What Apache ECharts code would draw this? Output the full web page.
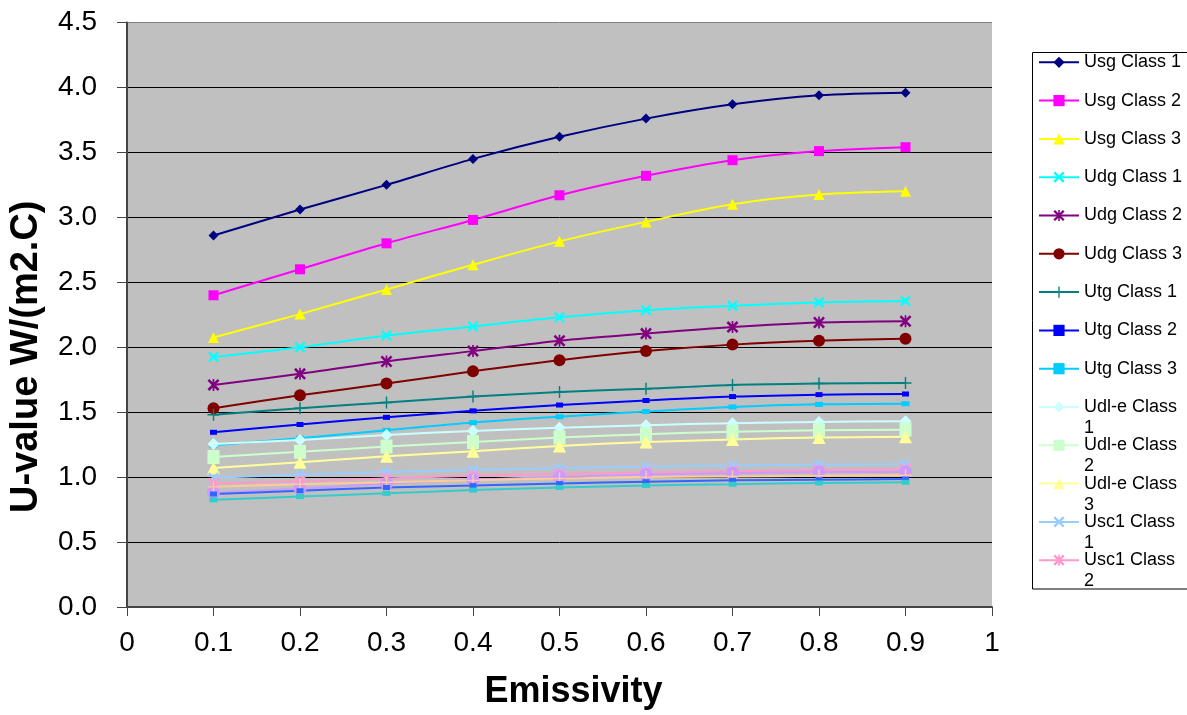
<!DOCTYPE html>
<html>
<head>
<meta charset="utf-8">
<script src="https://cdn.jsdelivr.net/npm/echarts@6/dist/echarts.min.js"></script>
<style>
html,body{margin:0;padding:0;background:#fff;}
#chart{width:1187px;height:715px;}
</style>
</head>
<body>
<div id="chart"></div>
<script>
// ---- data ----
const emissivity = [0.1, 0.2, 0.3, 0.4, 0.5, 0.6, 0.7, 0.8, 0.9];
const seriesNames = [
  'Usg Class 1','Usg Class 2','Usg Class 3',
  'Udg Class 1','Udg Class 2','Udg Class 3',
  'Utg Class 1','Utg Class 2','Utg Class 3',
  'Udl-e Class 1','Udl-e Class 2','Udl-e Class 3',
  'Usc1 Class 1','Usc1 Class 2','Usc1 Class 3',
  'Usc2 Class 1','Usc2 Class 2','Usc2 Class 3'
];
const legendNames = seriesNames.slice(0, 14);
const usgClass1 = [2.86, 3.06, 3.25, 3.45, 3.62, 3.76, 3.87, 3.94, 3.96];
const usgClass2 = [2.40, 2.60, 2.80, 2.98, 3.17, 3.32, 3.44, 3.51, 3.54];
const usgClass3 = [2.075, 2.255, 2.445, 2.635, 2.815, 2.965, 3.10, 3.175, 3.20];
const udgClass1 = [1.925, 2.00, 2.09, 2.16, 2.23, 2.285, 2.32, 2.345, 2.355];
const udgClass2 = [1.71, 1.795, 1.89, 1.97, 2.05, 2.105, 2.155, 2.19, 2.20];
const udgClass3 = [1.53, 1.63, 1.72, 1.815, 1.90, 1.97, 2.02, 2.05, 2.065];
const utgClass1 = [1.48, 1.53, 1.575, 1.62, 1.655, 1.68, 1.71, 1.72, 1.725];
const utgClass2 = [1.345, 1.405, 1.46, 1.51, 1.555, 1.59, 1.62, 1.635, 1.64];
const utgClass3 = [1.245, 1.30, 1.36, 1.42, 1.465, 1.505, 1.54, 1.56, 1.565];
const udleClass1 = [1.255, 1.285, 1.325, 1.355, 1.38, 1.40, 1.415, 1.425, 1.43];
const udleClass2 = [1.155, 1.195, 1.235, 1.27, 1.305, 1.33, 1.35, 1.36, 1.365];
const udleClass3 = [1.07, 1.115, 1.16, 1.20, 1.24, 1.27, 1.29, 1.305, 1.31];
const usc1Class1 = [0.995, 1.02, 1.04, 1.055, 1.07, 1.08, 1.09, 1.095, 1.10];
const usc1Class2 = [0.95, 0.97, 0.99, 1.01, 1.025, 1.035, 1.045, 1.055, 1.06];
const usc1Class3 = [0.88, 0.91, 0.95, 0.98, 1.00, 1.02, 1.03, 1.04, 1.04];
const usc2Class1 = [0.925, 0.945, 0.96, 0.975, 0.99, 1.00, 1.005, 1.01, 1.015];
const usc2Class2 = [0.87, 0.895, 0.92, 0.935, 0.95, 0.965, 0.975, 0.98, 0.985];
const usc2Class3 = [0.825, 0.85, 0.875, 0.90, 0.92, 0.935, 0.945, 0.955, 0.96];
const allValues = [usgClass1, usgClass2, usgClass3, udgClass1, udgClass2, udgClass3,
  utgClass1, utgClass2, utgClass3, udleClass1, udleClass2, udleClass3,
  usc1Class1, usc1Class2, usc1Class3, usc2Class1, usc2Class2, usc2Class3];
const yTicks = [0, 0.5, 1.0, 1.5, 2.0, 2.5, 3.0, 3.5, 4.0, 4.5];
const xTicks = [0, 0.1, 0.2, 0.3, 0.4, 0.5, 0.6, 0.7, 0.8, 0.9, 1];

// ---- styles ----
const colors = ['#000080','#FF00FF','#FFFF00','#00FFFF','#800080','#800000','#008080','#0000FF','#00CCFF',
  '#CCFFFF','#CCFFCC','#FFFF99','#99CCFF','#FF99CC','#CC99FF','#FFCC99','#3366FF','#33CCCC'];
const X_PATH = 'path://M0,1.5 L1.5,0 L10,8.5 L8.5,10 Z M8.5,0 L10,1.5 L1.5,10 L0,8.5 Z';
const STAR_PATH = 'path://M0,1.5 L1.5,0 L10,8.5 L8.5,10 Z M8.5,0 L10,1.5 L1.5,10 L0,8.5 Z M4.3,0 H5.7 V10 H4.3 Z';
const PLUS_PATH = 'path://M4.4,0 H5.6 V10 H4.4 Z M0,4.4 H10 V5.6 H0 Z';
const symbols = [
  ['diamond', 10], ['rect', 10], ['triangle', 11], [X_PATH, 11], [STAR_PATH, 12], ['circle', 12],
  [PLUS_PATH, 12], ['rect', [7, 5]], ['rect', [8, 5]]
];
const bigSymbols = { 9: ['diamond', 12], 10: ['rect', [12, 14]], 11: ['triangle', 13], 14: ['circle', 13] };
const FONT = '"Liberation Sans", Arial, Helvetica, sans-serif';

const series = seriesNames.map((name, i) => {
  const sym = bigSymbols[i] || symbols[i % 9];
  return {
    name: name,
    type: 'line',
    data: emissivity.map((x, j) => [x, allValues[i][j]]),
    smooth: 0.3,
    symbol: sym[0],
    symbolSize: sym[1],
    showAllSymbol: true,
    lineStyle: { color: colors[i], width: 2 },
    itemStyle: { color: colors[i], borderWidth: 0 },
    emphasis: { disabled: true },
    animation: false
  };
});

const wrapped = { 'Udl-e Class 1': 1, 'Udl-e Class 2': 1, 'Udl-e Class 3': 1, 'Usc1 Class 1': 1, 'Usc1 Class 2': 1 };
const legends = legendNames.map((name, i) => {
  const center = 62.3 + i * 38.3;
  const isWrapped = !!wrapped[name];
  const h = isWrapped ? 63 : 21;
  return {
    data: [name],
    left: 1032,
    top: center - h / 2,
    orient: 'vertical',
    itemWidth: 40,
    itemHeight: 14,
    itemGap: 0,
    padding: [0, 0, 0, 6],
    selectedMode: false,
    formatter: function (n) {
      if (wrapped[n]) {
        const k = n.lastIndexOf(' ');
        return '\n' + n.slice(0, k) + '\n' + n.slice(k + 1);
      }
      return n;
    },
    textStyle: { fontSize: 18, lineHeight: 21, color: '#000', fontFamily: FONT }
  };
});

const chart = echarts.init(document.getElementById('chart'), null, { renderer: 'canvas' });
chart.setOption({
  backgroundColor: '#ffffff',
  animation: false,
  textStyle: { fontFamily: FONT },
  grid: { left: 127, right: 195, top: 22.5, bottom: 108, show: true, backgroundColor: '#C0C0C0', borderWidth: 0 },
  graphic: [{
    type: 'rect',
    shape: { x: 1032.5, y: 52.5, width: 300, height: 536.5 },
    style: { fill: '#ffffff', stroke: '#000000', lineWidth: 1 },
    z: 0
  }],
  legend: legends,
  xAxis: {
    type: 'value',
    min: xTicks[0],
    max: xTicks[xTicks.length - 1],
    interval: 0.1,
    name: 'Emissivity',
    nameLocation: 'middle',
    nameGap: 67,
    nameTextStyle: { fontSize: 36, fontWeight: 'bold', color: '#000', fontFamily: FONT, padding: [0, 0, 0, 28] },
    axisLine: { show: true, onZero: false, lineStyle: { color: '#444', width: 2 } },
    axisTick: { show: true, inside: false, length: 9, lineStyle: { color: '#444', width: 1 } },
    axisLabel: {
      fontSize: 28, color: '#000', margin: 22, fontFamily: FONT,
      formatter: function (v) { return (v === 0 || v === 1) ? String(v) : v.toFixed(1); }
    },
    splitLine: { show: false }
  },
  yAxis: {
    type: 'value',
    min: yTicks[0],
    max: yTicks[yTicks.length - 1],
    interval: 0.5,
    name: 'U-value W/(m2.C)',
    nameLocation: 'middle',
    nameGap: 81,
    nameTextStyle: { fontSize: 38, fontWeight: 'bold', color: '#000', fontFamily: FONT, padding: [0, 84, 0, 0] },
    axisLine: { show: true, lineStyle: { color: '#444', width: 2 } },
    axisTick: { show: true, inside: false, length: 10, lineStyle: { color: '#444', width: 1 } },
    axisLabel: {
      fontSize: 28, color: '#000', margin: 30, fontFamily: FONT,
      formatter: function (v) { return v.toFixed(1); }
    },
    splitLine: { show: true, lineStyle: { color: ['#000', '#000', '#000', '#000', '#000', '#000', '#000', '#000', '#000', '#808080'], width: 1 } }
  },
  series: series
});
</script>
</body>
</html>
